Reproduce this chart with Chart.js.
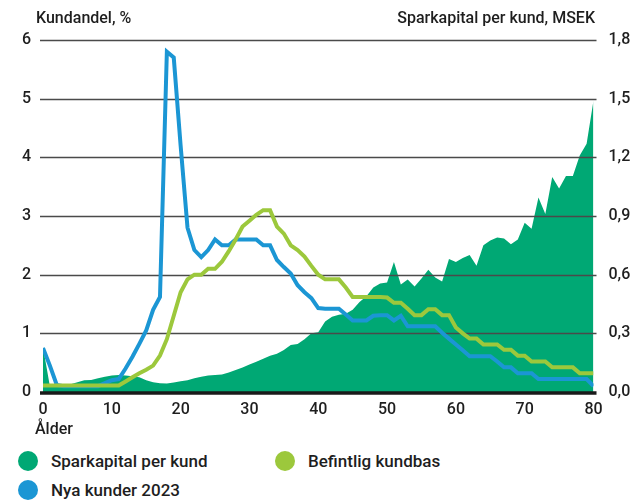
<!DOCTYPE html>
<html>
<head>
<meta charset="utf-8">
<script src="https://cdn.jsdelivr.net/npm/chart.js@4"></script>
<style>
    body { margin: 0; background: #fff; font-family: Roboto, sans-serif; color: #1e1e1e; }
    #wrap { position: relative; width: 634px; height: 500px; }
    #chartBox { position: absolute; left: 0; top: 0; width: 634px; height: 420px; }
    .title { position: absolute; top: 8px; font-size: 16px; font-weight: 500; white-space: nowrap; }
    .xtitle { position: absolute; left: 35px; top: 419px; font-size: 16px; font-weight: 500; }
    .legend-item { position: absolute; font-size: 17px; font-weight: 500; white-space: nowrap; line-height: 20px; }
    .legend-item .dot { position: absolute; left: -33px; top: 0px; width: 20px; height: 20px; border-radius: 50%; }
</style>
</head>
<body>
<div id="wrap">
    <div id="chartBox"><canvas id="ageChart"></canvas></div>
    <div class="title" style="left:36px;">Kundandel, %</div>
    <div class="title" style="right:39px;">Sparkapital per kund, MSEK</div>
    <div class="xtitle">Ålder</div>
    <div class="legend-item" style="left:51px; top:451px;"><span class="dot" style="background:#00a874;"></span>Sparkapital per kund</div>
    <div class="legend-item" style="left:308px; top:451px;"><span class="dot" style="background:#9cc83c;"></span>Befintlig kundbas</div>
    <div class="legend-item" style="left:51px; top:480px;"><span class="dot" style="background:#1b96d4;"></span>Nya kunder 2023</div>
</div>
<script>
// Age on the x axis (years)
const ages = [
    0, 1, 2, 3, 4, 5, 6, 7, 8, 9,
    10, 11, 12, 13, 14, 15, 16, 17, 18, 19,
    20, 21, 22, 23, 24, 25, 26, 27, 28, 29,
    30, 31, 32, 33, 34, 35, 36, 37, 38, 39,
    40, 41, 42, 43, 44, 45, 46, 47, 48, 49,
    50, 51, 52, 53, 54, 55, 56, 57, 58, 59,
    60, 61, 62, 63, 64, 65, 66, 67, 68, 69,
    70, 71, 72, 73, 74, 75, 76, 77, 78, 79,
    80
];

// Sparkapital per kund, MSEK (right axis)
const sparkapital = [
    0.23, 0.03, 0.03, 0.035, 0.04, 0.05, 0.06, 0.062, 0.07, 0.078,
    0.085, 0.087, 0.085, 0.08, 0.075, 0.06, 0.05, 0.045, 0.044, 0.048,
    0.055, 0.06, 0.07, 0.078, 0.085, 0.087, 0.09, 0.1, 0.112, 0.125,
    0.14, 0.155, 0.17, 0.185, 0.195, 0.215, 0.24, 0.245, 0.27, 0.3,
    0.305, 0.36, 0.385, 0.395, 0.4, 0.42, 0.46, 0.49, 0.535, 0.555,
    0.56, 0.665, 0.55, 0.575, 0.54, 0.58, 0.625, 0.585, 0.565, 0.68,
    0.665, 0.685, 0.7, 0.645, 0.75, 0.775, 0.79, 0.785, 0.755, 0.78,
    0.865, 0.835, 0.995, 0.91, 1.1, 1.04, 1.105, 1.105, 1.21, 1.27,
    1.49
];

// Nya kunder 2023, % (left axis)
const nyaKunder = [
    0.75, 0.45, 0.12, 0.1, 0.1, 0.1, 0.1, 0.1, 0.1, 0.15,
    0.2, 0.22, 0.4, 0.6, 0.82, 1.05, 1.4, 1.62, 5.8, 5.7,
    4.2, 2.8, 2.42, 2.3, 2.42, 2.6, 2.5, 2.5, 2.6, 2.6,
    2.6, 2.6, 2.5, 2.5, 2.25, 2.13, 2.02, 1.82, 1.7, 1.6,
    1.43, 1.42, 1.42, 1.42, 1.32, 1.22, 1.22, 1.22, 1.3, 1.31,
    1.31, 1.22, 1.3, 1.12, 1.12, 1.12, 1.12, 1.12, 1.01, 0.91,
    0.81, 0.71, 0.61, 0.61, 0.61, 0.61, 0.52, 0.42, 0.42, 0.32,
    0.32, 0.32, 0.22, 0.22, 0.22, 0.22, 0.22, 0.22, 0.22, 0.22,
    0.1
];

// Befintlig kundbas, % (left axis)
const befintlig = [
    0.11, 0.11, 0.11, 0.11, 0.11, 0.11, 0.11, 0.11, 0.11, 0.11,
    0.11, 0.11, 0.18, 0.25, 0.32, 0.38, 0.45, 0.62, 0.9, 1.3,
    1.7, 1.92, 2.0, 2.0, 2.1, 2.1, 2.22, 2.4, 2.6, 2.82,
    2.92, 3.02, 3.1, 3.1, 2.82, 2.7, 2.5, 2.42, 2.31, 2.15,
    2.0, 1.92, 1.92, 1.92, 1.78, 1.62, 1.62, 1.62, 1.62, 1.62,
    1.61, 1.52, 1.52, 1.42, 1.31, 1.31, 1.41, 1.41, 1.31, 1.31,
    1.1, 1.0, 0.91, 0.91, 0.81, 0.81, 0.81, 0.72, 0.72, 0.62,
    0.62, 0.52, 0.52, 0.52, 0.42, 0.42, 0.42, 0.42, 0.32, 0.32,
    0.32
];

const leftTicks = [0, 1, 2, 3, 4, 5, 6];

function toPoints(values) {
    return ages.map((a, i) => ({ x: a, y: values[i] }));
}

const tickFont = { family: 'Roboto', size: 16, weight: '500' };

// Grid lines are drawn on top of the filled area but below the two lines
const gridOverArea = {
    id: 'gridOverArea',
    afterDatasetDraw(chart, args) {
        if (args.index !== 0) return;
        const ctx = chart.ctx;
        const area = chart.chartArea;
        const y = chart.scales.y;
        ctx.save();
        leftTicks.forEach(t => {
            const py = Math.round(y.getPixelForValue(t)) + 0.5;
            ctx.beginPath();
            if (t === 0) {
                ctx.strokeStyle = '#1a1a1a';
                ctx.lineWidth = 3.5;
                ctx.moveTo(area.left - 3, py + 0.5);
                ctx.lineTo(area.right + 3, py + 0.5);
            } else {
                ctx.strokeStyle = '#4a4a4a';
                ctx.lineWidth = 1.3;
                ctx.moveTo(area.left - 3, py);
                ctx.lineTo(area.right + 3, py);
            }
            ctx.stroke();
        });
        ctx.restore();
    }
};

const ctx = document.getElementById('ageChart').getContext('2d');
new Chart(ctx, {
    type: 'line',
    data: {
        datasets: [
            {
                label: 'Sparkapital per kund',
                data: toPoints(sparkapital),
                yAxisID: 'y1',
                backgroundColor: '#00a874',
                borderWidth: 0,
                fill: 'origin',
                pointRadius: 0,
                tension: 0,
                order: 3
            },
            {
                label: 'Nya kunder 2023',
                data: toPoints(nyaKunder),
                yAxisID: 'y',
                borderColor: '#1b96d4',
                borderWidth: 4,
                fill: false,
                pointRadius: 0,
                tension: 0,
                order: 2
            },
            {
                label: 'Befintlig kundbas',
                data: toPoints(befintlig),
                yAxisID: 'y',
                borderColor: '#9cc83c',
                borderWidth: 4,
                fill: false,
                pointRadius: 0,
                tension: 0,
                order: 1
            }
        ]
    },
    options: {
        responsive: true,
        maintainAspectRatio: false,
        animation: false,
        layout: { padding: { top: 40, left: 0, right: 0, bottom: 0 } },
        plugins: {
            legend: { display: false },
            tooltip: { enabled: false }
        },
        scales: {
            x: {
                type: 'linear',
                min: 0,
                max: 80,
                grid: { display: false, drawTicks: false },
                border: { display: false },
                ticks: { stepSize: 10, padding: 8, color: '#1e1e1e', font: tickFont },
                afterFit: s => { s.height = 28; }
            },
            y: {
                position: 'left',
                min: 0,
                max: 6,
                grid: { display: false, drawTicks: false },
                border: { display: false },
                ticks: { stepSize: 1, padding: 12, color: '#1e1e1e', font: tickFont },
                afterFit: s => { s.width = 43; }
            },
            y1: {
                position: 'right',
                min: 0,
                max: 1.8,
                grid: { display: false, drawTicks: false },
                border: { display: false },
                ticks: {
                    stepSize: 0.3,
                    padding: 15,
                    color: '#1e1e1e',
                    font: tickFont,
                    callback: v => v.toFixed(1).replace('.', ',')
                },
                afterFit: s => { s.width = 40.5; }
            }
        }
    },
    plugins: [gridOverArea]
});
</script>
</body>
</html>
